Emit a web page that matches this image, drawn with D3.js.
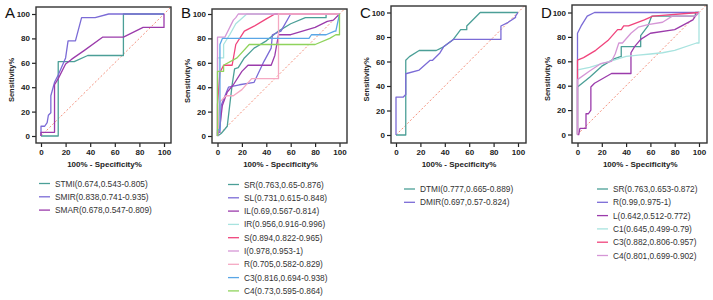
<!DOCTYPE html>
<html>
<head>
<meta charset="utf-8">
<script src="https://cdn.jsdelivr.net/npm/d3@7"></script>
<style>
  body { margin: 0; background: #fff; }
  svg { font-family: "Liberation Sans", Arial, sans-serif; }
</style>
</head>
<body>
<svg id="chart" width="713" height="300"></svg>
<script>
// ROC curves, [100 - specificity, sensitivity]
// Panel A
const aSTMI = [[0,0],[14,0],[14,61],[27,61],[38,66],[67,66],[67,100],[100,100]];
const aSMIR = [[0,0],[0,8],[3,8],[5,11],[6,17],[8,19],[8,33],[11,44],[14,50],[20,64],[22,78],[28,78],[33,97],[44,97],[55,100],[100,100]];
const aSMAR = [[0,0],[0,3],[11,3],[11,42],[14,47],[20,59],[25,63],[35,70],[50,81],[67,81],[83,89],[100,89],[100,100]];
const aLabels = ['STMI(0.674,0.543-0.805)', 'SMIR(0.838,0.741-0.935)', 'SMAR(0.678,0.547-0.809)'];

// Panel B
const bSR = [[0,0],[3,2],[8,8],[12,42],[14,55],[17,56],[22,64],[30,72],[40,78],[50,86],[60,92],[72,97],[89,97],[89,100],[100,100]];
const bSL = [[0,0],[0,3],[2,3],[3,25],[7,35],[9,40],[18,42],[30,44],[38,61],[44,72],[45,83],[52,86],[60,100],[100,100]];
const bIL = [[0,0],[2,8],[3,17],[4,25],[8,36],[13,42],[20,53],[25,58],[44,58],[47,66],[50,83],[60,83],[80,89],[90,94],[95,95],[100,100]];
const bIR = [[0,0],[0,64],[5,64],[5,75],[10,83],[15,92],[24,100],[100,100]];
const bS  = [[0,0],[0,26],[2,52],[5,58],[12,58],[15,75],[22,86],[30,90],[40,96],[47,100],[100,100]];
const bI  = [[0,0],[0,64],[0,81],[6,81],[13,95],[15,97],[17,100],[100,100]];
const bR  = [[0,0],[2,28],[7,33],[13,33],[20,38],[28,47],[37,47],[50,47],[50,100],[100,100]];
const bC3 = [[0,0],[0,5],[2,5],[2,75],[4,80],[75,80],[77,83],[89,83],[96,86],[97,86],[100,100]];
const bC4 = [[0,0],[0,53],[5,53],[5,58],[16,64],[26,75],[80,75],[92,80],[97,83],[100,83],[100,100]];
const bLabels = ['SR(0.763,0.65-0.876)', 'SL(0.731,0.615-0.848)', 'IL(0.69,0.567-0.814)', 'IR(0.956,0.916-0.996)',
  'S(0.894,0.822-0.965)', 'I(0.978,0.953-1)', 'R(0.705,0.582-0.829)', 'C3(0.816,0.694-0.938)', 'C4(0.73,0.595-0.864)'];

// Panel C
const cDTMI = [[0,0],[8,0],[8,61],[11,64],[19,69],[33,69],[39,72],[47,78],[53,86],[58,86],[58,89],[69,100],[100,100]];
const cDMIR = [[0,0],[0,31],[6,31],[8,33],[8,50],[19,53],[28,61],[30,61],[36,67],[39,72],[47,78],[86,78],[86,89],[92,92],[98,96],[98,97],[100,100]];
const cLabels = ['DTMI(0.777,0.665-0.889)', 'DMIR(0.697,0.57-0.824)'];

// Panel D
const dSR = [[0,0],[0,39],[10,47],[20,56],[30,62],[36,64],[36,72],[52,72],[52,81],[58,89],[61,97],[97,97],[97,100],[100,100]];
const dR  = [[0,0],[0,83],[3,89],[8,97],[14,100],[100,100]];
const dL  = [[0,0],[1,0],[2,5],[7,5],[7,17],[9,17],[11,20],[11,39],[14,42],[28,50],[44,50],[44,67],[47,72],[52,78],[60,83],[80,86],[95,94],[97,97],[100,100]];
const dC1 = [[0,0],[0,53],[10,55],[20,58],[30,61],[40,64],[50,65],[60,66],[70,67],[80,69],[98,75],[100,75],[100,100]];
const dC3 = [[0,0],[0,61],[5,63],[15,69],[25,77],[33,86],[36,86],[38,89],[42,89],[55,94],[62,97],[100,100]];
const dC4 = [[0,0],[0,45],[10,52],[19,58],[28,60],[31,66],[34,75],[37,75],[44,83],[50,88],[58,90],[70,92],[78,97],[97,97],[100,100]];
const dLabels = ['SR(0.763,0.653-0.872)', 'R(0.99,0.975-1)', 'L(0.642,0.512-0.772)', 'C1(0.645,0.499-0.79)',
  'C3(0.882,0.806-0.957)', 'C4(0.801,0.699-0.902)'];

const ticks = [0, 20, 40, 60, 80, 100];

// colours
const teal = '#4b9f97', violet = '#7b6bd6', purple = '#9b3bab', cyan = '#a8e3df',
      rose = '#f0447c', orchid = '#d596d6', pink = '#f5a8c2', blue = '#5aa6e6', green = '#8fd35c';

const panels = [
  { letter: 'A', frame: [36, 171, 7, 143], x: [41, 164], y: [136, 14],
    series: [aSTMI, aSMIR, aSMAR], colors: [teal, violet, purple], labels: aLabels,
    legend: { x: 39, y: 183.5 } },
  { letter: 'B', frame: [212, 347, 9, 143], x: [217.5, 339.5], y: [136, 14],
    series: [bSR, bSL, bIL, bIR, bS, bI, bR, bC3, bC4],
    colors: [teal, violet, purple, cyan, rose, orchid, pink, blue, green], labels: bLabels,
    legend: { x: 228, y: 184.5 } },
  { letter: 'C', frame: [391, 526, 6, 143], x: [396, 518], y: [135, 12.5],
    series: [cDTMI, cDMIR], colors: [teal, violet], labels: cLabels,
    legend: { x: 404, y: 189 } },
  { letter: 'D', frame: [572, 707, 5, 143], x: [577.5, 699], y: [134.5, 12.5],
    series: [dSR, dR, dL, dC1, dC3, dC4], colors: [teal, violet, purple, cyan, rose, orchid], labels: dLabels,
    legend: { x: 597, y: 189 } }
];

const svg = d3.select('#chart');

panels.forEach((p, i) => {
  const [fl, fr, ft, fb] = p.frame;
  const xScale = d3.scaleLinear().domain([0, 100]).range(p.x);
  const yScale = d3.scaleLinear().domain([0, 100]).range(p.y);
  const g = svg.append('g');

  // clip to frame
  const clipId = 'clip' + i;
  svg.append('clipPath').attr('id', clipId)
    .append('rect').attr('x', fl).attr('y', ft).attr('width', fr - fl).attr('height', fb - ft);

  // reference diagonal
  g.append('line')
    .attr('clip-path', `url(#${clipId})`)
    .attr('x1', xScale(0)).attr('y1', yScale(0))
    .attr('x2', xScale(110)).attr('y2', yScale(110))
    .attr('stroke', '#f4907c').attr('stroke-width', 1)
    .attr('stroke-dasharray', '2,2');

  // curves
  const line = d3.line().x(d => xScale(d[0])).y(d => yScale(d[1]));
  g.selectAll('path.roc')
    .data(p.series)
    .join('path')
      .attr('class', 'roc')
      .attr('d', line)
      .attr('fill', 'none')
      .attr('stroke', (d, k) => p.colors[k])
      .attr('stroke-width', 1.3)
      .attr('stroke-linejoin', 'round');

  // axes
  const xAxis = d3.axisBottom(xScale).tickValues(ticks).tickSize(4).tickPadding(2);
  const yAxis = d3.axisLeft(yScale).tickValues(ticks).tickSize(4).tickPadding(2);
  g.append('g').attr('transform', `translate(0,${fb})`).call(xAxis)
    .call(a => a.select('.domain').remove());
  g.append('g').attr('transform', `translate(${fl},0)`).call(yAxis)
    .call(a => a.select('.domain').remove());
  g.selectAll('.tick line').attr('stroke', '#222').attr('stroke-width', 1.2);
  g.selectAll('.tick text').attr('fill', '#222')
    .style('font-size', '8px').style('font-weight', 'bold');

  // frame
  g.append('rect')
    .attr('x', fl).attr('y', ft).attr('width', fr - fl).attr('height', fb - ft)
    .attr('fill', 'none').attr('stroke', '#333').attr('stroke-width', 1.4);

  // titles
  g.append('text')
    .attr('x', fl - 31).attr('y', 18)
    .style('font-size', '15px').style('fill', '#111')
    .text(p.letter);
  g.append('text')
    .attr('transform', `translate(${fl - 22},${(ft + fb) / 2 + 5}) rotate(-90)`)
    .attr('text-anchor', 'middle')
    .style('font-size', '7.5px').style('font-weight', 'bold').style('fill', '#222')
    .text('Sensitivity%');
  g.append('text')
    .attr('x', (p.x[0] + p.x[1]) / 2 + 2).attr('y', 167)
    .attr('text-anchor', 'middle')
    .style('font-size', '8px').style('font-weight', 'bold').style('fill', '#222')
    .text('100% - Specificity%');

  // legend
  const step = 13.3;
  const leg = g.selectAll('g.leg')
    .data(p.labels)
    .join('g')
      .attr('class', 'leg')
      .attr('transform', (d, k) => `translate(${p.legend.x},${p.legend.y + k * step})`);
  leg.append('line')
    .attr('x1', 0).attr('x2', 11).attr('y1', 0).attr('y2', 0)
    .attr('stroke', (d, k) => p.colors[k]).attr('stroke-width', 1.3);
  leg.append('text')
    .attr('x', 16).attr('y', 3)
    .style('font-size', '8.3px').style('fill', '#333')
    .text(d => d);
});
</script>
</body>
</html>
